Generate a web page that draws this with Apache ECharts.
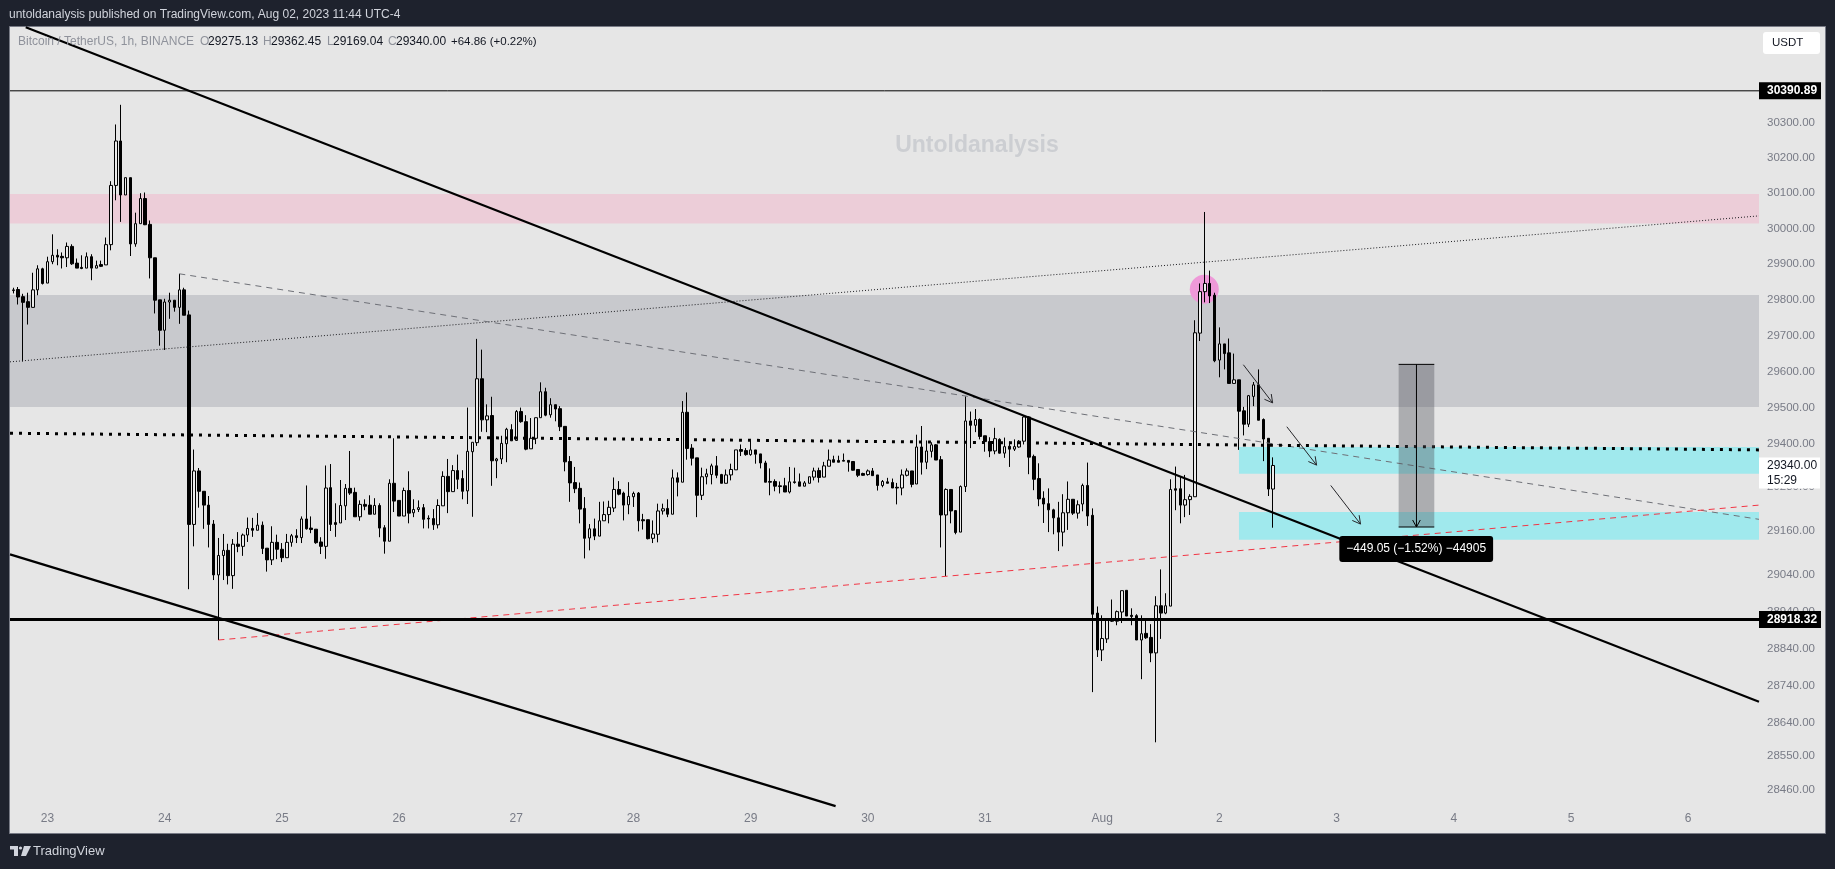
<!DOCTYPE html>
<html><head><meta charset="utf-8"><title>BTCUSDT</title>
<style>html,body{margin:0;padding:0;background:#1e222d}#c{width:1835px;height:869px}</style>
<script src="https://cdn.jsdelivr.net/npm/echarts@6/dist/echarts.min.js"></script></head>
<body><div id="c"></div><script>
// hourly candles [open, close, low, high]; index 0 = Jul 22 17:00
const ohlc=[
[29826,29828,29818,29834],[29829,29808,29787,29836],[29809,29793,29628,29817],[29795,29779,29731,29820],[29779,29828,29779,29876],[29828,29887,29813,29897],[29887,29846,29843,29890],[29847,29907,29847,29921],[29907,29925,29900,29984],[29925,29920,29897,29942],
[29922,29918,29888,29933],[29918,29950,29892,29961],[29950,29901,29898,29956],[29903,29889,29889,29916],[29891,29888,29886,29925],[29889,29921,29889,29933],[29921,29889,29855,29928],[29889,29896,29889,29910],[29899,29894,29892,29910],[29898,29955,29898,29975],
[29955,30122,29939,30134],[30122,30248,30080,30295],[30248,30095,30019,30351],[30095,30144,30095,30144],[30144,29957,29923,30144],[29957,30014,29949,30045],[30014,30085,30014,30100],[30085,30011,30010,30102],[30012,29918,29860,30023],[29918,29799,29762,29918],
[29800,29715,29672,29800],[29715,29794,29660,29803],[29794,29799,29747,29820],[29799,29779,29767,29799],[29779,29828,29733,29873],[29828,29757,29757,29834],[29758,29178,29001,29770],[29178,29325,29118,29384],[29325,29269,29224,29333],[29269,29231,29166,29269],
[29231,29178,29115,29256],[29179,29040,29026,29190],[29040,29093,28863,29141],[29093,29107,29026,29152],[29107,29038,29014,29125],[29038,29124,29002,29138],[29124,29118,29102,29157],[29118,29149,29092,29153],[29149,29167,29130,29197],[29167,29162,29144,29196],
[29162,29176,29162,29209],[29176,29112,29097,29186],[29113,29081,29049,29113],[29081,29129,29067,29173],[29129,29110,29083,29150],[29110,29087,29075,29127],[29087,29129,29087,29152],[29129,29147,29117,29152],[29147,29142,29127,29165],[29142,29193,29127,29200],
[29193,29166,29164,29285],[29168,29164,29154,29200],[29165,29128,29125,29165],[29130,29118,29097,29143],[29118,29278,29084,29340],[29279,29178,29160,29344],[29183,29178,29144,29236],[29182,29230,29182,29300],[29229,29277,29190,29289],[29277,29264,29259,29380],
[29266,29199,29199,29279],[29199,29233,29188,29244],[29233,29228,29217,29247],[29231,29206,29206,29258],[29206,29230,29206,29250],[29230,29168,29143,29236],[29169,29132,29098,29176],[29132,29291,29132,29302],[29291,29242,29212,29415],[29244,29201,29201,29244],
[29201,29271,29201,29279],[29271,29209,29181,29324],[29210,29219,29198,29247],[29219,29224,29212,29244],[29224,29192,29167,29234],[29195,29193,29167,29203],[29194,29177,29163,29220],[29177,29230,29167,29247],[29229,29310,29229,29324],[29310,29268,29209,29358],
[29268,29326,29268,29341],[29326,29302,29275,29370],[29304,29269,29247,29327],[29270,29379,29234,29500],[29378,29404,29199,29404],[29403,29580,29394,29691],[29580,29466,29433,29661],[29466,29477,29432,29509],[29478,29353,29284,29530],[29353,29358,29305,29361],
[29358,29401,29344,29422],[29400,29440,29349,29444],[29439,29408,29408,29454],[29409,29489,29409,29493],[29489,29461,29458,29500],[29461,29385,29382,29479],[29386,29415,29386,29471],[29415,29472,29399,29472],[29472,29544,29472,29570],[29544,29479,29476,29555],
[29480,29508,29472,29526],[29508,29496,29462,29508],[29497,29447,29435,29504],[29448,29350,29324,29448],[29351,29292,29240,29366],[29293,29276,29264,29336],[29277,29220,29181,29293],[29222,29140,29085,29253],[29141,29166,29107,29179],[29166,29146,29135,29194],
[29146,29188,29146,29240],[29188,29205,29188,29241],[29205,29225,29181,29243],[29223,29274,29212,29307],[29274,29261,29258,29297],[29264,29231,29189,29268],[29232,29255,29206,29294],[29254,29263,29226,29268],[29264,29188,29159,29267],[29191,29188,29164,29207],
[29191,29139,29137,29191],[29140,29152,29127,29189],[29151,29215,29129,29235],[29215,29221,29205,29235],[29222,29206,29198,29247],[29206,29306,29206,29329],[29306,29294,29255,29321],[29294,29487,29294,29518],[29487,29387,29356,29542],[29388,29360,29340,29399],
[29361,29258,29198,29361],[29258,29309,29245,29334],[29309,29317,29288,29331],[29315,29339,29288,29345],[29339,29313,29305,29366],[29315,29291,29291,29317],[29291,29314,29291,29329],[29314,29329,29299,29345],[29328,29383,29328,29383],[29384,29379,29366,29398],
[29381,29370,29367,29388],[29370,29383,29367,29409],[29383,29371,29345,29383],[29372,29347,29332,29372],[29347,29294,29294,29353],[29296,29294,29258,29332],[29296,29283,29269,29302],[29284,29282,29263,29296],[29284,29267,29267,29306],[29267,29295,29263,29336],
[29295,29293,29290,29334],[29295,29283,29283,29318],[29283,29292,29283,29297],[29291,29309,29291,29309],[29308,29325,29299,29334],[29326,29307,29293,29334],[29308,29339,29308,29350],[29338,29355,29338,29384],[29356,29349,29349,29367],[29354,29349,29349,29367],
[29354,29352,29352,29373],[29354,29349,29323,29354],[29351,29327,29326,29351],[29329,29313,29308,29329],[29318,29313,29312,29320],[29315,29325,29312,29329],[29325,29312,29312,29333],[29314,29285,29271,29314],[29285,29296,29280,29300],[29295,29291,29291,29306],
[29293,29278,29278,29304],[29280,29278,29233,29292],[29278,29314,29258,29329],[29313,29325,29310,29332],[29325,29288,29280,29325],[29289,29391,29289,29425],[29391,29349,29315,29449],[29349,29380,29330,29409],[29379,29397,29362,29404],[29397,29355,29355,29399],
[29356,29204,29115,29366],[29204,29274,29037,29277],[29274,29215,29181,29274],[29216,29156,29151,29216],[29157,29282,29157,29285],[29282,29463,29267,29531],[29463,29451,29388,29489],[29451,29467,29432,29496],[29467,29420,29412,29470],[29422,29406,29378,29422],
[29406,29380,29363,29418],[29380,29414,29371,29444],[29412,29374,29373,29415],[29374,29392,29361,29417],[29393,29385,29336,29406],[29385,29392,29380,29412],[29391,29407,29389,29410],[29407,29474,29398,29478],[29474,29363,29316,29476],[29365,29302,29272,29370],
[29304,29248,29228,29346],[29250,29234,29182,29269],[29235,29218,29157,29277],[29218,29196,29151,29221],[29196,29157,29105,29240],[29157,29210,29118,29261],[29210,29247,29163,29296],[29247,29209,29204,29247],[29209,29232,29194,29244],[29234,29285,29214,29290],
[29285,29201,29174,29348],[29203,28933,28722,29222],[28936,28836,28817,28954],[28836,28867,28806,28930],[28866,28920,28855,28920],[28919,28914,28912,28973],[28914,28940,28903,28943],[28939,28997,28909,28997],[28998,28928,28928,28998],[28930,28927,28903,28949],
[28929,28863,28863,28933],[28863,28880,28757,28930],[28881,28869,28866,28919],[28870,28828,28803,28906],[28828,28956,28587,28982],[28956,28936,28866,29055],[28936,28956,28933,28990],[28955,29274,28955,29302],[29276,29272,29217,29337],[29276,29231,29181,29311],
[29231,29246,29198,29314],[29246,29255,29204,29261],[29254,29708,29254,29743],[29707,29823,29685,29846],[29823,29846,29793,30047],[29846,29811,29791,29882],[29813,29630,29626,29820],[29632,29677,29584,29723],[29677,29650,29606,29677],[29652,29567,29567,29692],
[29567,29577,29567,29650],[29577,29490,29383,29577],[29491,29454,29423,29502],[29454,29533,29446,29535],[29531,29563,29504,29571],[29563,29465,29465,29606],[29467,29413,29352,29470],[29415,29275.13,29256,29415],[29275.13,29340,29169.04,29362.45]
];
const xMin=-0.68, xMax=357.5, yMin=28344.5, yMax=30573.6;
const dayHours=[7,31,55,79,103,127,151,175,199,223,247,271,295,319,343];
const dayLabels=["23","24","25","26","27","28","29","30","31","Aug","2","3","4","5","6"];
const priceTicks=[30300,30200,30100,30000,29900,29800,29700,29600,29500,29400,29280,29160,29040,28940,28840,28740,28640,28550,28460];
const zonePink=[30098,30014.6], zoneGray=[29813.6,29501.6], zoneCyan1=[29391,29317], zoneCyan2=[29212,29136];
const cyanStart=251;
const hLevelTop=30390.89, hLevelBottom=28918.32;
const channelUpper=[[2.54,30573],[xMax,28696]];
const channelLower=[[xMin,29096],[168.4,28416]];
const dotLevel=[[xMin,29429],[xMax,29383]];
const thinRise=[[xMin,29627],[xMax,30036]];
const grayDash=[[34,29873],[xMax,29192]];
const redDash=[[42,28863],[xMax,29231]];
const pinkSpot=[243.9,29830];
const arrows=[[251.9,29619,257.9,29513],[260.8,29447,266.9,29341],[269.8,29285,275.9,29179]];
const measure=[283.7,291,29620,29170.95];
const measureText="\u2212449.05 (\u22121.52%) \u221244905";
const measureLabelAt=[287.3,29111];

const FONT="'Liberation Sans'";
const chart=echarts.init(document.getElementById('c'),null,{renderer:'canvas'});
function ln(data,color,width,type,z,name){return {type:'line',name,data,symbol:'none',silent:true,z,clip:true,animation:false,
  lineStyle:{color,width,type,cap:'butt'}};}
function zone(name,range,color,start){return {type:'line',name,data:[],z:1,silent:true,animation:false,
  markArea:{silent:true,animation:false,itemStyle:{color,opacity:1,borderWidth:0},label:{show:false},
    data:[[{xAxis:start,yAxis:range[0]},{xAxis:xMax,yAxis:range[1]}]]}};}
function headLines(a,b,len){const ang=Math.atan2(b[1]-a[1],b[0]-a[0]);const d=0.5;
  return [[b[0]-len*Math.cos(ang-d),b[1]-len*Math.sin(ang-d)],b,[b[0]-len*Math.cos(ang+d),b[1]-len*Math.sin(ang+d)]];}
const option={
  backgroundColor:'#1e222d',animation:false,
  grid:{left:10,right:76,top:27,bottom:36,containLabel:false},
  tooltip:{show:false},
  xAxis:{type:'value',min:xMin,max:xMax,splitLine:{show:false},axisLine:{show:false},axisTick:{show:false},
    axisLabel:{inside:true,margin:8,customValues:dayHours,color:'#787b86',fontFamily:FONT,fontSize:12,
      formatter:v=>dayLabels[dayHours.indexOf(v)]}},
  yAxis:{type:'log',logBase:10,min:yMin,max:yMax,position:'right',splitLine:{show:false},axisLine:{show:false},axisTick:{show:false},
    axisLabel:{margin:8,customValues:priceTicks,color:'#787b86',fontFamily:FONT,fontSize:11.5,
      formatter:v=>Number(v).toFixed(2)}},
  series:[
    zone('pink',zonePink,'#eccdd8',xMin),
    zone('gray',zoneGray,'#c8c9cd',xMin),
    zone('cyan1',zoneCyan1,'#a0e9ed',cyanStart),
    zone('cyan2',zoneCyan2,'#a0e9ed',cyanStart),
    {type:'scatter',name:'spot',data:[pinkSpot],symbolSize:29,z:2,silent:true,itemStyle:{color:'#ee99d8',opacity:1},animation:false},
    {type:'candlestick',name:'BTCUSDT',z:3,silent:true,animation:false,barWidth:3,
      data:ohlc.map((r,i)=>[i,r[0],r[1],r[2],r[3]]),encode:{x:0,y:[1,2,3,4]},
      itemStyle:{color:'#ececec',color0:'#000',borderColor:'#000',borderColor0:'#000',borderWidth:1}},
    ln(thinRise,'#1c1c20',1,[1,2],4,'rise'),
    ln(grayDash,'#6e7077',1,[6,5],4,'grayDash'),
    ln(redDash,'#f23645',1,[6,5],4,'redDash'),
    ln(dotLevel,'#000',3,[3,6],5,'dots'),
    ln(channelUpper,'#000',2.2,'solid',5,'upper'),
    ln(channelLower,'#000',2.2,'solid',5,'lower'),
    ln([[xMin,hLevelTop],[xMax,hLevelTop]],'#000',1,'solid',5,'top'),
    ln([[xMin,hLevelBottom],[xMax,hLevelBottom]],'#000',3,'solid',5,'bottom'),
    {type:'custom',name:'arrows',z:6,silent:true,animation:false,clip:true,data:arrows,encode:{x:[0,2],y:[1,3]},
      renderItem(p,api){const a=api.coord([api.value(0),api.value(1)]),b=api.coord([api.value(2),api.value(3)]);
        const st={stroke:'#26262a',lineWidth:1,fill:null};
        return {type:'group',children:[{type:'line',shape:{x1:a[0],y1:a[1],x2:b[0],y2:b[1]},style:st},
          {type:'polyline',shape:{points:headLines(a,b,9)},style:st}]};}},
    {type:'custom',name:'measure',z:7,silent:true,animation:false,clip:true,data:[measure],encode:{x:[0,1],y:[2,3]},
      renderItem(p,api){const tl=api.coord([api.value(0),api.value(2)]),br=api.coord([api.value(1),api.value(3)]);
        const cx=(tl[0]+br[0])/2,st={stroke:'#000',lineWidth:1,fill:null};
        return {type:'group',children:[
          {type:'rect',shape:{x:tl[0],y:tl[1],width:br[0]-tl[0],height:br[1]-tl[1]},style:{fill:'rgba(80,82,90,0.38)'}},
          {type:'line',shape:{x1:tl[0],y1:tl[1],x2:br[0],y2:tl[1]},style:st},
          {type:'line',shape:{x1:tl[0],y1:br[1],x2:br[0],y2:br[1]},style:st},
          {type:'line',shape:{x1:cx,y1:tl[1],x2:cx,y2:br[1]},style:st},
          {type:'polyline',shape:{points:headLines([cx,tl[1]],[cx,br[1]],8)},style:st}]};}},
    {type:'scatter',name:'measureLabel',z:8,silent:true,animation:false,data:[measureLabelAt],symbolSize:0,itemStyle:{opacity:1},
      label:{show:true,position:'inside',formatter:measureText,color:'#fff',backgroundColor:'#000',borderRadius:3,opacity:1,
        padding:[7,7],fontFamily:FONT,fontSize:12}}
  ]
};
chart.setOption(option);
const yOf=v=>chart.convertToPixel({yAxisIndex:0},v);
function badge(v){const y=yOf(v);return {type:'group',z:50,children:[
  {type:'rect',z:50,shape:{x:1759,y:y-8.5,width:62,height:17},style:{fill:'#000'}},
  {type:'text',z:51,style:{x:1767,y:y,text:v.toFixed(2),fill:'#fff',font:"bold 12px "+FONT,textVerticalAlign:'middle'}}]};}
function txt(x,y,text,fill,font){return {type:'text',z:30,style:{x,y,text,fill,font:font||("12px "+FONT),textVerticalAlign:'middle'}};}
const yLast=yOf(29340);
chart.setOption({graphic:{elements:[
  {type:'rect',z:-5,shape:{x:9.5,y:26.5,width:1816,height:807},style:{fill:'#e6e6e6',stroke:'#787b86',lineWidth:1}},
  txt(9,15,'untoldanalysis published on TradingView.com, Aug 02, 2023 11:44 UTC-4','#d1d4dc'),
  txt(18,41.5,'Bitcoin / TetherUS, 1h, BINANCE','#8f929b'),
  txt(200,41.5,'O','#8f929b'),txt(208,41.5,'29275.13','#131722'),
  txt(263,41.5,'H','#8f929b'),txt(271,41.5,'29362.45','#131722'),
  txt(327,41.5,'L','#8f929b'),txt(333,41.5,'29169.04','#131722'),
  txt(388,41.5,'C','#8f929b'),txt(396,41.5,'29340.00','#131722'),
  txt(451,41.5,'+64.86 (+0.22%)','#131722',"11.5px "+FONT),
  {type:'text',z:2,style:{x:977,y:146,text:'Untoldanalysis',fill:'#ccced2',font:"bold 23px "+FONT,textAlign:'center',textVerticalAlign:'middle'}},
  {type:'rect',z:30,shape:{x:1763,y:32,width:57,height:22,r:3},style:{fill:'#fff'}},
  txt(1772,43,'USDT','#131722',"11.5px "+FONT),
  badge(hLevelTop),badge(hLevelBottom),
  {type:'rect',z:40,shape:{x:1759,y:yLast-8,width:61,height:31},style:{fill:'#fff'}},
  {type:'text',z:41,style:{x:1767,y:yLast,text:'29340.00',fill:'#131722',font:"12px "+FONT,textVerticalAlign:'middle'}},
  {type:'text',z:41,style:{x:1767,y:yLast+15,text:'15:29',fill:'#131722',font:"12px "+FONT,textVerticalAlign:'middle'}},
  {type:'polygon',z:30,shape:{points:[[10,846],[18,846],[18,856],[14,856],[14,849.5],[10,849.5]]},style:{fill:'#d1d4dc'}},
  {type:'polygon',z:30,shape:{points:[[24,846],[31,846],[26,856],[21,856]]},style:{fill:'#d1d4dc'}},
  {type:'circle',z:30,shape:{cx:20.5,cy:848,r:1.6},style:{fill:'#d1d4dc'}},
  txt(33,851,'TradingView','#d1d4dc',"13px "+FONT)
]}});
</script></body></html>
